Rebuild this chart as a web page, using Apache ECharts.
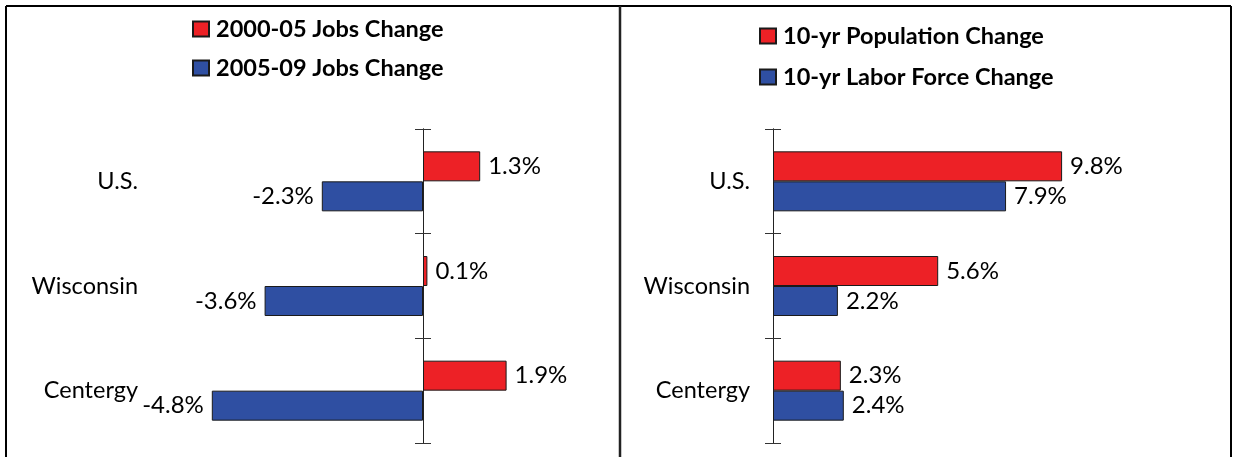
<!DOCTYPE html>
<html>
<head>
<meta charset="utf-8">
<script src="https://cdn.jsdelivr.net/npm/echarts@6/dist/echarts.min.js"></script>
<style>
  html, body { margin: 0; padding: 0; background: #fff; }
  #chart { width: 1233px; height: 457px; }
</style>
</head>
<body>
<div id="chart"></div>
<script>
// 数据
const regions = ['U.S.', 'Wisconsin', 'Centergy'];
const jobs0005 = [1.3, 0.1, 1.9];
const jobs0509 = [-2.3, -3.6, -4.8];
const popChange = [9.8, 5.6, 2.3];
const laborChange = [7.9, 2.2, 2.4];

const RED = '#ed2126';
const BLUE = '#2f4fa2';
const FONT = 'Lato';

// 正值标签在右侧，负值标签在左侧
function withLabels(values) {
    return values.map(v => ({
        value: v,
        label: { position: v < 0 ? 'left' : 'right' }
    }));
}

// 每个面板需要三个 y 轴：文字、轴线+外侧刻度、内侧刻度
function yAxesFor(gridIndex, labelMargin) {
    const base = {
        type: 'category',
        data: regions,
        inverse: true,
        gridIndex: gridIndex
    };
    return [
        Object.assign({}, base, {
            axisLine: { show: false, onZero: false },
            axisTick: { show: false },
            axisLabel: { margin: labelMargin, fontSize: 23.5, fontFamily: FONT, color: '#000' }
        }),
        Object.assign({}, base, {
            axisLine: { show: true, onZero: true, onZeroAxisIndex: gridIndex, lineStyle: { color: '#222', width: 1 } },
            axisTick: { show: true, length: 8, lineStyle: { color: '#333', width: 1 } },
            axisLabel: { show: false }
        }),
        Object.assign({}, base, {
            axisLine: { show: true, onZero: true, onZeroAxisIndex: gridIndex, lineStyle: { color: '#222', width: 1 } },
            axisTick: { show: true, inside: true, length: 8, lineStyle: { color: '#333', width: 1 } },
            axisLabel: { show: false }
        })
    ];
}

function barSeries(name, values, color, xi, yi) {
    return {
        name: name,
        type: 'bar',
        xAxisIndex: xi,
        yAxisIndex: yi,
        data: withLabels(values),
        barWidth: 30,
        barGap: '0%',
        itemStyle: { color: color, borderColor: '#1a1a1a', borderWidth: 1 },
        label: {
            show: true,
            distance: 8,
            formatter: '{c}%',
            fontSize: 24,
            fontFamily: FONT,
            color: '#000'
        }
    };
}

function legendAt(name, left, top) {
    return {
        data: [name],
        left: left,
        top: top,
        orient: 'vertical',
        icon: 'rect',
        itemWidth: 16,
        itemHeight: 15,
        selectedMode: false,
        textStyle: { fontSize: 23.5, fontWeight: 'bold', fontFamily: FONT, color: '#000', lineHeight: 22, padding: [0, 0, 0, 2] }
    };
}

const chart = echarts.init(document.getElementById('chart'));

const option = {
    animation: false,
    backgroundColor: '#fff',
    legend: [
        legendAt('2000-05 Jobs Change', 187, 12),
        legendAt('2005-09 Jobs Change', 187, 51),
        legendAt('10-yr Population Change', 754, 19),
        legendAt('10-yr Labor Force Change', 754, 60)
    ],
    grid: [
        { left: 203, top: 129, width: 352, height: 314, outerBoundsMode: 'none' },
        { left: 773, top: 129, width: 354, height: 314, outerBoundsMode: 'none' }
    ],
    xAxis: [
        { type: 'value', gridIndex: 0, min: -5, max: 3, show: false },
        { type: 'value', gridIndex: 1, min: 0, max: 12, show: false }
    ],
    yAxis: yAxesFor(0, 65).concat(yAxesFor(1, 23)),
    series: [
        barSeries('2000-05 Jobs Change', jobs0005, RED, 0, 1),
        barSeries('2005-09 Jobs Change', jobs0509, BLUE, 0, 1),
        barSeries('10-yr Population Change', popChange, RED, 1, 4),
        barSeries('10-yr Labor Force Change', laborChange, BLUE, 1, 4)
    ],
    // 外框
    graphic: [
        { type: 'line', shape: { x1: 6, y1: 6, x2: 1231, y2: 6 }, style: { stroke: '#000', lineWidth: 2 } },
        { type: 'line', shape: { x1: 6, y1: 6, x2: 6, y2: 457 }, style: { stroke: '#000', lineWidth: 2 } },
        { type: 'line', shape: { x1: 620, y1: 6, x2: 620, y2: 457 }, style: { stroke: '#222', lineWidth: 2.5 } },
        { type: 'line', shape: { x1: 1231, y1: 6, x2: 1231, y2: 457 }, style: { stroke: '#000', lineWidth: 2 } }
    ]
};

chart.setOption(option);
</script>
</body>
</html>
